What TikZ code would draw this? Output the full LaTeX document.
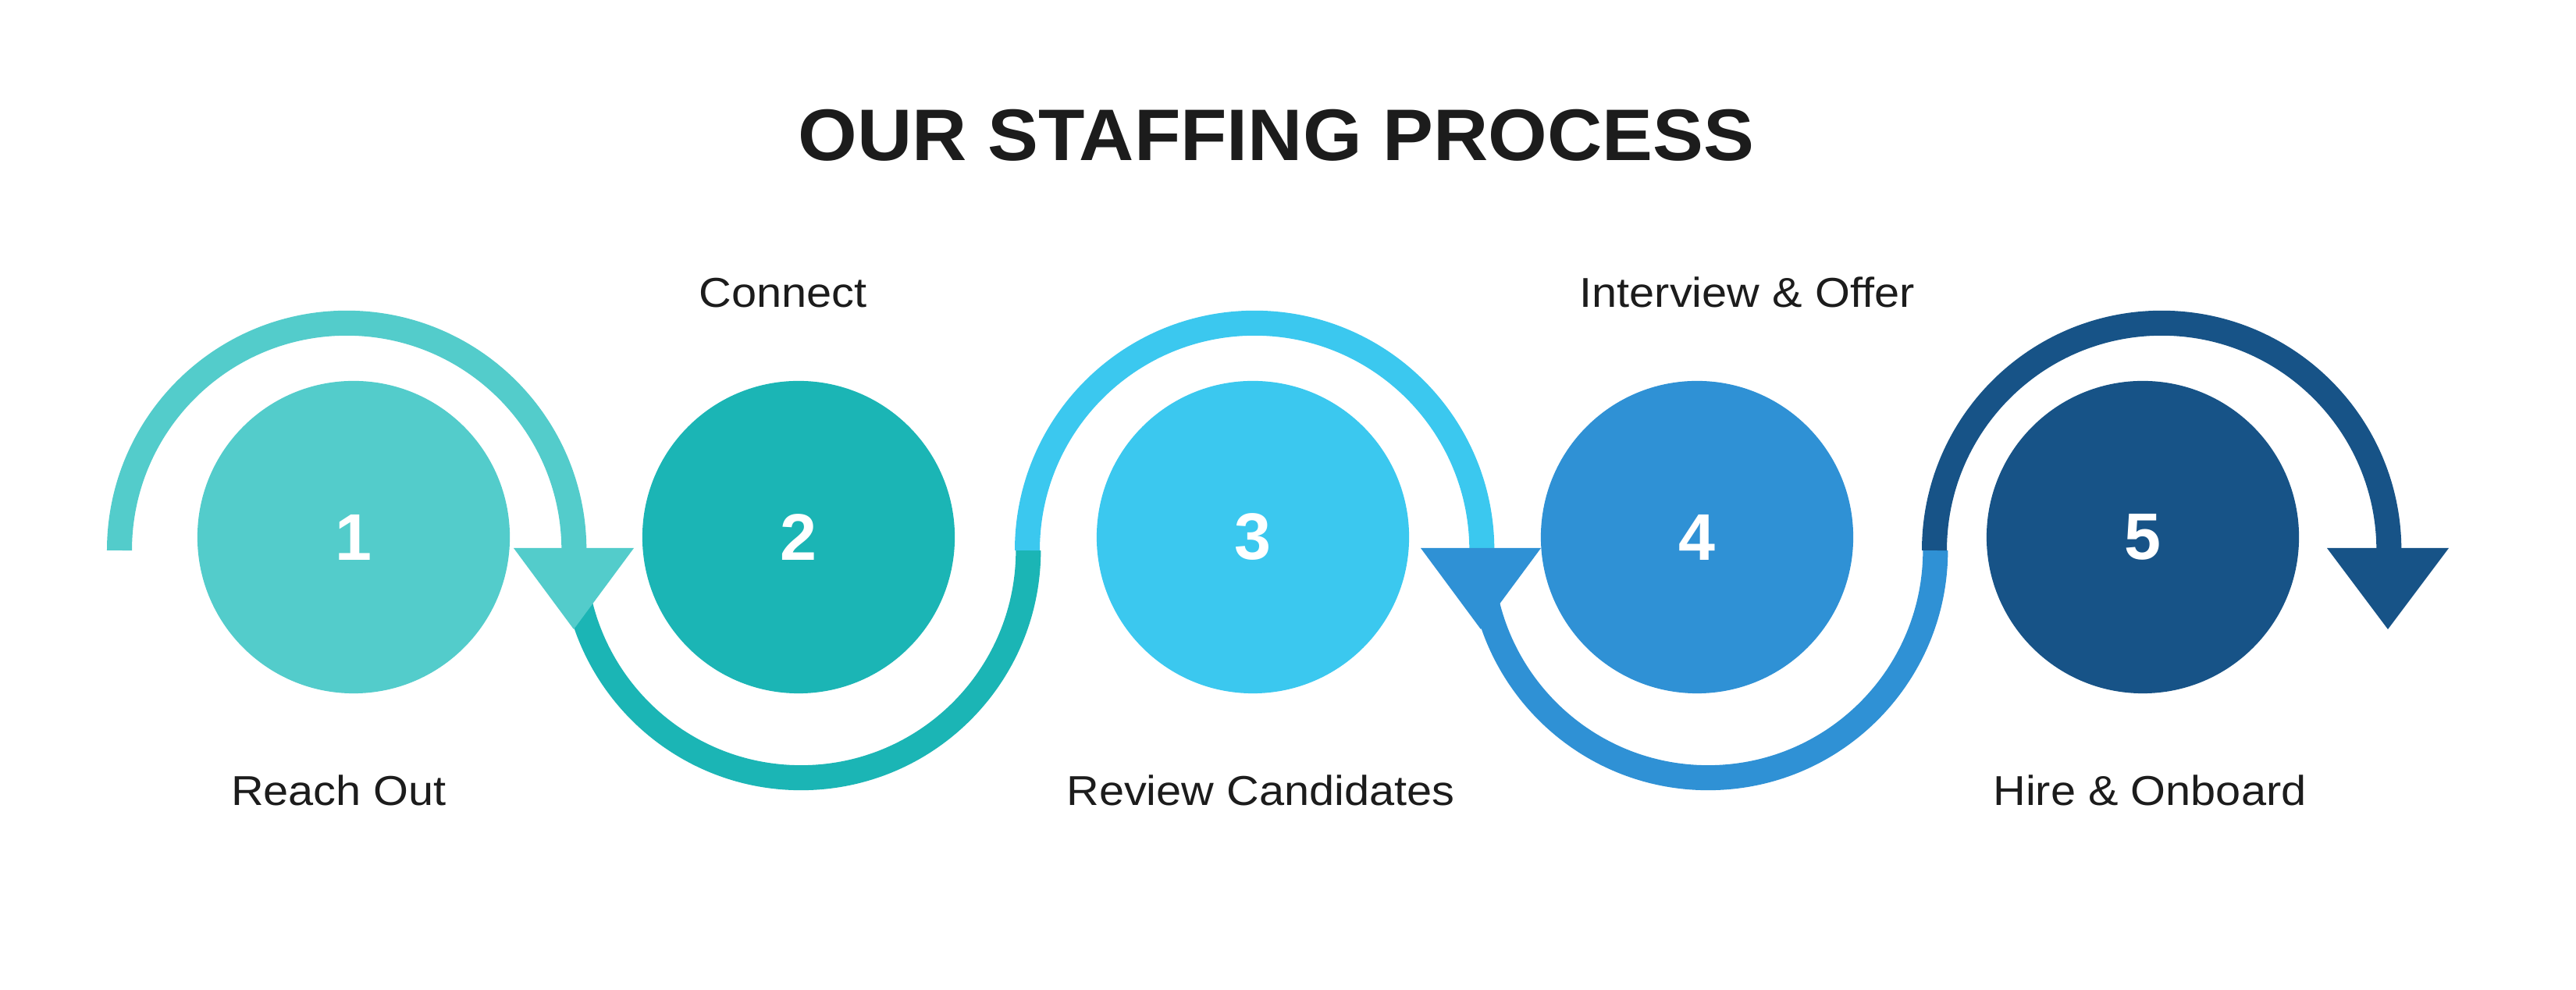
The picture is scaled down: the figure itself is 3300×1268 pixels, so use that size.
\documentclass[tikz,border=0pt]{standalone}
\usepackage{fontspec}
\setmainfont{Liberation Sans}
\usepackage{graphicx}
\definecolor{c1}{HTML}{53CCCB}
\definecolor{c2}{HTML}{1BB5B5}
\definecolor{c3}{HTML}{3BC8EF}
\definecolor{c4}{HTML}{2F91D5}
\definecolor{c5}{HTML}{175387}
\definecolor{ink}{HTML}{1C1C1C}
\newcommand\steptext[1]{\scalebox{1.08}[1]{#1}}
\tikzset{
  stepcircle/.style={circle, minimum size=4cm, inner sep=0pt, text=white,
    font=\fontsize{24pt}{28pt}\selectfont\bfseries},
  flowarc/.style={line width=0.32cm},
  steplabel/.style={anchor=base, inner sep=0pt, text=ink,
    font=\fontsize{15.2pt}{18pt}\selectfont},
  titletext/.style={anchor=base, inner sep=0pt, text=ink,
    font=\fontsize{26.6pt}{32pt}\selectfont\bfseries}
}
\begin{document}
\begin{tikzpicture}[x=0.01cm,y=0.01cm]
\useasboundingbox (0,0) rectangle (3300,1268);
\fill[white] (0,0) rectangle (3300,1268);
% arc end points
\coordinate (a0) at (153,563);
\coordinate (a1) at (735,563);
\coordinate (a2) at (1316,563);
\coordinate (a3) at (1897,563);
\coordinate (a4) at (2478,563);
\coordinate (a5) at (3059,563);
% arcs
\draw[flowarc,c1] (a0) arc[start angle=180,end angle=0,radius=2.91cm];
\draw[flowarc,c2] (a1) arc[start angle=180,end angle=360,radius=2.91cm];
\draw[flowarc,c3] (a2) arc[start angle=180,end angle=0,radius=2.91cm];
\draw[flowarc,c4] (a3) arc[start angle=180,end angle=360,radius=2.91cm];
\draw[flowarc,c5] (a4) arc[start angle=180,end angle=0,radius=2.91cm];
% arrow heads
\fill[c1] (a1) ++(-77,3) -- ++(154,0) -- ++(-77,-104) -- cycle;
\fill[c4] (a3) ++(-77,3) -- ++(154,0) -- ++(-77,-104) -- cycle;
\fill[c5] (a5) ++(-78,3) -- ++(156,0) -- ++(-78,-104) -- cycle;
% step circles
\node[stepcircle, fill=c1] (s1) at (453,580) {1};
\node[stepcircle, fill=c2] (s2) at (1023,580) {2};
\node[stepcircle, fill=c3] (s3) at (1605,580) {3};
\node[stepcircle, fill=c4] (s4) at (2174,580) {4};
\node[stepcircle, fill=c5] (s5) at (2745,580) {5};
% labels
\node[steplabel] (l1) at (434,236) {\steptext{Reach Out}};
\node[steplabel] (l2) at (1003,874) {\steptext{Connect}};
\node[steplabel] (l3) at (1615,236) {\steptext{Review Candidates}};
\node[steplabel] (l4) at (2238,874) {\steptext{Interview \& Offer}};
\node[steplabel] (l5) at (2754,236) {\steptext{Hire \& Onboard}};
% title
\node[titletext] (title) at (1635,1062) {\scalebox{1.04}[1]{OUR STAFFING PROCESS}};
\end{tikzpicture}
\end{document}
